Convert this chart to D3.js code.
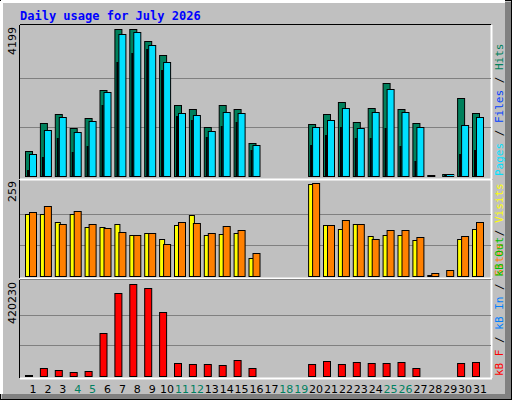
<!DOCTYPE html>
<html><head><meta charset="utf-8">
<script src="https://cdn.jsdelivr.net/npm/d3@7"></script>
<style>body{margin:0;background:#fff}</style>
</head><body>
<script>
// data
var days = d3.range(1, 32);
var weekend = [4, 5, 11, 12, 18, 19, 25, 26];
var hits = [714,1514,1771,1371,1657,2456,4199,4199,3856,3456,2028,1914,1400,2028,1914,943,0,0,0,1485,1771,2114,1542,1942,2656,1914,1514,29,57,2228,1800];
var files = [628,1314,1685,1257,1571,2399,4056,4113,3742,3256,1800,1742,1285,1828,1800,885,0,0,0,1400,1599,1942,1371,1828,2485,1828,1400,0,57,1457,1685];
var pages = [171,543,1085,685,857,2028,3256,3513,3627,3027,1714,1599,1114,1428,1542,750,0,0,0,885,1171,1400,1085,1085,1371,857,428,0,29,628,742];
var visits = [173,173,150,173,136,136,145,114,120,103,142,170,114,117,120,50,0,0,0,256,142,131,145,111,114,114,100,3,0,103,131];
var sites = [178,195,145,181,145,134,123,114,120,89,150,147,120,139,128,64,0,0,0,259,142,156,145,103,128,128,109,8,17,111,150];
var kbytes = [4000,36500,27400,18300,22800,196000,379000,420230,402000,292000,59400,54800,54800,50200,73000,36500,0,0,0,54800,68500,54800,63900,59400,59400,63900,36500,2000,2000,59400,63900];

var W = 512, H = 400;
var svg = d3.select('body').append('svg').attr('width', W).attr('height', H)
  .style('font-family', 'DejaVu Sans');

svg.append('rect').attr('width', W).attr('height', H).attr('fill', '#c0c0c0');
// outer bevel
svg.append('rect').attr('x', 0.5).attr('y', 0.5).attr('width', W - 1).attr('height', H - 1)
  .attr('fill', 'none').attr('stroke', '#000');
svg.append('rect').attr('x', 505).attr('y', 2).attr('width', 6).attr('height', 397).attr('fill', '#808080');
svg.append('rect').attr('x', 2).attr('y', 394).attr('width', 509).attr('height', 5).attr('fill', '#808080');
svg.append('line').attr('x1', 1).attr('x2', 505).attr('y1', 1.5).attr('y2', 1.5).attr('stroke', '#fff').attr('stroke-width', 3);
svg.append('line').attr('x1', 1.5).attr('x2', 1.5).attr('y1', 1).attr('y2', 394).attr('stroke', '#fff').attr('stroke-width', 3);

svg.append('text').attr('x', 20).attr('y', 20).text('Daily usage for July 2026')
  .attr('fill', '#0000ff').style('font-family', 'DejaVu Sans Mono').style('font-weight', 'bold').style('font-size', '12px');

var x = d3.scaleLinear().domain([1, 31]).range([33, 480]);
var L = 20, R = 491;

// frame lines
[[25, 179], [180, 278], [280, 378]].forEach(function (p) {
  svg.append('line').attr('x1', L).attr('x2', R).attr('y1', p[0] - 0.5).attr('y2', p[0] - 0.5).attr('stroke', '#000');
  svg.append('line').attr('x1', L - 0.5).attr('x2', L - 0.5).attr('y1', p[0]).attr('y2', p[1]).attr('stroke', '#000');
});
[[25, 179], [180, 278], [280, 378]].forEach(function (p) {
  svg.append('line').attr('x1', L).attr('x2', R + 1).attr('y1', p[1] + 0.5).attr('y2', p[1] + 0.5).attr('stroke', '#fff').attr('stroke-width', 2);
  svg.append('line').attr('x1', R + 0.5).attr('x2', R + 0.5).attr('y1', p[0]).attr('y2', p[1]).attr('stroke', '#fff').attr('stroke-width', 2);
});

function panel(base, top, max, label) {
  var y = d3.scaleLinear().domain([0, max]).range([base, top]);
  [max / 3, 2 * max / 3].forEach(function (v) {
    svg.append('line').attr('x1', L).attr('x2', R).attr('y1', Math.round(y(v)) + 0.5).attr('y2', Math.round(y(v)) + 0.5)
      .attr('stroke', '#808080');
  });
  svg.append('text').attr('transform', 'translate(16,' + (top - 2) + ') rotate(-90)')
    .attr('text-anchor', 'end').style('font-size', '11px').text(label);
  return y;
}

function bars(cls, data, y, dx, w, color) {
  svg.selectAll('rect.' + cls).data(data).join('rect').attr('class', cls)
    .attr('x', function (d, i) { return x(i + 1) + dx + 0.5; })
    .attr('y', function (d) { return Math.round(y(d)) + 0.5; })
    .attr('width', w)
    .attr('height', function (d) { return Math.max(0, y.range()[0] - Math.round(y(d))); })
    .attr('fill', color).attr('stroke', '#000')
    .style('display', function (d) { return d > 0 ? null : 'none'; });
}

var y1 = panel(176, 29, 4199, '4199');
bars('hits', hits, y1, -8, 7, '#00805c');
bars('files', files, y1, -4, 7, '#00e0ff');
bars('pages', pages, y1, -6, 1, '#0040ff');

var y2 = panel(276, 183, 259, '259');
bars('visits', visits, y2, -8, 5, '#ffff00');
bars('sites', sites, y2, -4, 7, '#ff8000');

var y3 = panel(376, 284, 420230, '420230');
bars('kb', kbytes, y3, -8, 7, '#ff0000');

svg.selectAll('text.day').data(days).join('text').attr('class', 'day')
  .attr('x', function (d) { return x(d); }).attr('y', 393)
  .attr('text-anchor', 'middle').style('font-size', '11px')
  .attr('fill', function (d) { return weekend.indexOf(d) >= 0 ? '#008060' : '#000'; })
  .text(function (d) { return d; });

function legend(yb, parts) {
  var t = svg.append('text').attr('transform', 'translate(503,' + yb + ') rotate(-90)')
    .style('font-family', 'DejaVu Sans Mono').style('font-size', '11px');
  parts.forEach(function (p) { t.append('tspan').attr('fill', p[1]).text(p[0]); });
}
legend(176, [['Pages', '#00e0ff'], [' / ', '#000'], ['Files', '#0040ff'], [' / ', '#000'], ['Hits', '#00805c']]);
legend(276, [['Sites', '#ff8000'], [' / ', '#000'], ['Visits', '#ffff00']]);
legend(376, [['kB F', '#ff0000'], [' / ', '#000'], ['kB In', '#0080ff'], [' / ', '#000'], ['kB Out', '#00c000']]);
</script>
</body></html>
